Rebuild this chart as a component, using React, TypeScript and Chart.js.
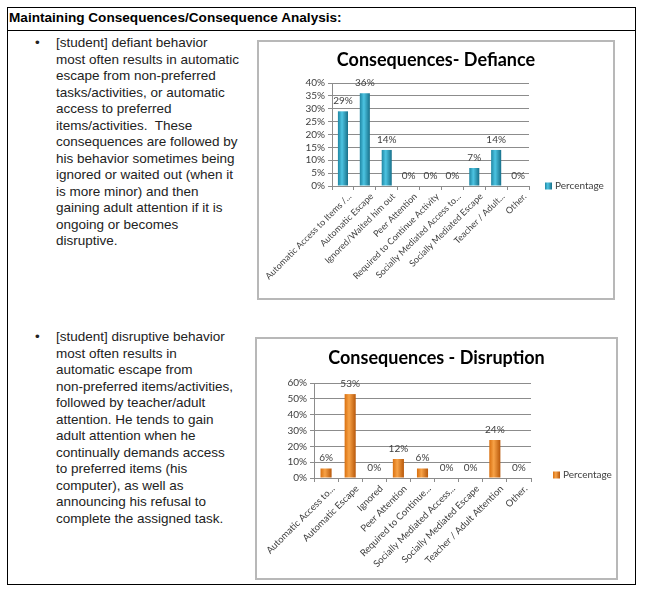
import React, { useEffect, useRef } from "react";
import { Chart, registerables } from "chart.js";

Chart.register(...registerables);

// ---------- data ----------
const seriesName = "Percentage";

const defianceTitle = "Consequences- Defiance";
const defianceLabels = [
  "Automatic Access to Items /...",
  "Automatic Escape",
  "Ignored/Waited him out",
  "Peer Attention",
  "Required to Continue Activity",
  "Socially Mediated Access to...",
  "Socially Mediated Escape",
  "Teacher / Adult...",
  "Other.",
];
const defianceValues = [29, 36, 14, 0, 0, 0, 7, 14, 0];
const defianceMax = 40;
const defianceStep = 5;

const disruptionTitle = "Consequences - Disruption";
const disruptionLabels = [
  "Automatic Access to...",
  "Automatic Escape",
  "Ignored",
  "Peer Attention",
  "Required to Continue...",
  "Socially Mediated Access...",
  "Socially Mediated Escape",
  "Teacher / Adult Attention",
  "Other.",
];
const disruptionValues = [6, 53, 0, 12, 6, 0, 0, 24, 0];
const disruptionMax = 60;
const disruptionStep = 10;

const headerText = "Maintaining Consequences/Consequence Analysis:";
const defianceText = [
  "[student] defiant behavior",
  "most often results in automatic",
  "escape from non-preferred",
  "tasks/activities, or automatic",
  "access to preferred",
  "items/activities.  These",
  "consequences are followed by",
  "his behavior sometimes being",
  "ignored or waited out (when it",
  "is more minor) and then",
  "gaining adult attention if it is",
  "ongoing or becomes",
  "disruptive.",
];
const disruptionText = [
  "[student] disruptive behavior",
  "most often results in",
  "automatic escape from",
  "non-preferred items/activities,",
  "followed by teacher/adult",
  "attention. He tends to gain",
  "adult attention when he",
  "continually demands access",
  "to preferred items (his",
  "computer), as well as",
  "announcing his refusal to",
  "complete the assigned task.",
];

// ---------- styling ----------
const FONT = "Lato, 'Open Sans', sans-serif";
const TEXT = "#404040";
const GRID = "#8c8c8c";
const BAR_PCT = 0.46;

const tealStops = ["#1f86a3", "#4cc4e2", "#17708a"];
const orangeStops = ["#d9700f", "#f7a247", "#b8580a"];

function barFill(stops: string[]) {
  return (c: any) => {
    const chart = c.chart;
    const xs = chart.scales && chart.scales.x;
    if (!xs || !chart.chartArea) return stops[1];
    const n = chart.data.labels.length;
    const cx = xs.getPixelForValue(c.dataIndex);
    const w = (xs.width / n) * BAR_PCT;
    const g = chart.ctx.createLinearGradient(cx - w / 2, 0, cx + w / 2, 0);
    g.addColorStop(0, stops[0]);
    g.addColorStop(0.4, stops[1]);
    g.addColorStop(1, stops[2]);
    return g;
  };
}

const valueLabelPlugin = {
  id: "valueLabels",
  afterDatasetsDraw(chart: any) {
    const { ctx } = chart;
    const meta = chart.getDatasetMeta(0);
    const data = chart.data.datasets[0].data;
    ctx.save();
    ctx.font = `10px ${FONT}`;
    ctx.fillStyle = TEXT;
    ctx.textAlign = "center";
    ctx.textBaseline = "middle";
    meta.data.forEach((bar: any, i: number) => {
      ctx.fillText(`${data[i]}%`, bar.x, bar.y - 10.5);
    });
    ctx.restore();
  },
};

const chartTitlePlugin = {
  id: "chartTitle",
  afterDraw(chart: any, _args: any, opts: any) {
    const { ctx, width } = chart;
    ctx.save();
    ctx.font = `bold 18px ${FONT}`;
    ctx.fillStyle = "#000";
    ctx.textAlign = "center";
    ctx.textBaseline = "middle";
    ctx.fillText(opts.text, width / 2, opts.y);
    ctx.restore();
  },
};

const sideLegendPlugin = {
  id: "sideLegend",
  afterDraw(chart: any, _args: any, opts: any) {
    const { ctx, chartArea } = chart;
    const x = chartArea.right + (opts.dx || 16);
    const y = chartArea.bottom + (opts.dy || 0);
    const stops: string[] = opts.stops;
    ctx.save();
    const g = ctx.createLinearGradient(x, 0, x + 7, 0);
    g.addColorStop(0, stops[0]);
    g.addColorStop(0.4, stops[1]);
    g.addColorStop(1, stops[2]);
    ctx.fillStyle = g;
    ctx.fillRect(x, y - 3.5, 7, 7);
    ctx.font = `10px ${FONT}`;
    ctx.fillStyle = TEXT;
    ctx.textAlign = "left";
    ctx.textBaseline = "middle";
    ctx.fillText(opts.text, x + 10, y);
    ctx.restore();
  },
};

type ChartProps = {
  labels: string[];
  values: number[];
  max: number;
  step: number;
  title: string;
  stops: string[];
  width: number;
  height: number;
  yWidth: number;
  xHeight: number;
  rightPad: number;
  topPad: number;
  titleY: number;
  legendDx: number;
  legendDy: number;
  xFont: number;
};

function BarChart(p: ChartProps) {
  const ref = useRef<HTMLCanvasElement | null>(null);
  useEffect(() => {
    if (!ref.current) return;
    const chart = new Chart(ref.current, {
      type: "bar",
      data: {
        labels: p.labels,
        datasets: [
          {
            label: seriesName,
            data: p.values,
            backgroundColor: barFill(p.stops) as any,
            borderWidth: 0,
            categoryPercentage: 1,
            barPercentage: BAR_PCT,
          },
        ],
      },
      plugins: [valueLabelPlugin, sideLegendPlugin, chartTitlePlugin],
      options: {
        animation: false,
        responsive: false,
        devicePixelRatio: 1,
        layout: { padding: { left: 0, right: p.rightPad, top: p.topPad, bottom: 0 } },
        plugins: {
          legend: { display: false },
          tooltip: { enabled: false },
          title: { display: false },
          chartTitle: { text: p.title, y: p.titleY },
          sideLegend: { text: seriesName, stops: p.stops, dx: p.legendDx, dy: p.legendDy },
        } as any,
        scales: {
          x: {
            grid: {
              drawOnChartArea: false,
              drawTicks: true,
              tickLength: 4,
              color: GRID,
              offset: true,
            },
            border: { color: GRID },
            ticks: {
              autoSkip: false,
              minRotation: 45,
              maxRotation: 45,
              padding: 1,
              labelOffset: 7,
              color: TEXT,
              font: { family: FONT, size: p.xFont },
            },
            afterFit: (s: any) => {
              s.height = p.xHeight;
              s.paddingLeft = 0;
              s.paddingRight = 0;
            },
          } as any,
          y: {
            min: 0,
            max: p.max,
            grid: { color: GRID, tickLength: 4 },
            border: { color: GRID },
            ticks: {
              autoSkip: false,
              stepSize: p.step,
              padding: 3,
              color: TEXT,
              font: { family: FONT, size: 10 },
              callback: (v: any) => `${v}%`,
            },
            afterFit: (s: any) => {
              s.width = p.yWidth;
            },
          } as any,
        },
      },
    });
    return () => chart.destroy();
  }, []);
  return (
    <canvas
      ref={ref}
      width={p.width}
      height={p.height}
      style={{ display: "block", width: p.width, height: p.height }}
    />
  );
}

const textStyle: React.CSSProperties = {
  position: "absolute",
  fontFamily: "'Liberation Sans', Arial, sans-serif",
  fontSize: 13.5,
  lineHeight: "16.5px",
  color: "#222",
  whiteSpace: "pre",
};

function Bullet({ top, lines }: { top: number; lines: string[] }) {
  return (
    <>
      <div style={{ ...textStyle, left: 35, top }}>•</div>
      <div style={{ ...textStyle, left: 56, top }}>
        {lines.map((l, i) => (
          <div key={i}>{l}</div>
        ))}
      </div>
    </>
  );
}

export default function App() {
  return (
    <div
      style={{
        position: "absolute",
        left: 0,
        top: 0,
        width: 647,
        height: 593,
        background: "#fff",
        overflow: "hidden",
      }}
    >
      {/* table outline */}
      <div
        style={{
          position: "absolute",
          left: 7,
          top: 7,
          width: 629,
          height: 578,
          border: "1px solid #000",
          boxSizing: "border-box",
        }}
      />
      <div style={{ position: "absolute", left: 7, top: 30, width: 629, height: 1, background: "#000" }} />
      <div
        style={{
          position: "absolute",
          left: 9,
          top: 10,
          fontFamily: "'Liberation Sans', Arial, sans-serif",
          fontWeight: "bold",
          fontSize: 13.6,
          lineHeight: "16px",
          color: "#000",
          whiteSpace: "pre",
        }}
      >
        {headerText}
      </div>

      <Bullet top={35} lines={defianceText} />
      <Bullet top={329} lines={disruptionText} />

      {/* chart 1 */}
      <div
        style={{
          position: "absolute",
          left: 257,
          top: 40,
          width: 358,
          height: 260,
          border: "2px solid #b8b8b8",
          boxSizing: "border-box",
          background: "#fff",
        }}
      >
        <BarChart
          labels={defianceLabels}
          values={defianceValues}
          max={defianceMax}
          step={defianceStep}
          title={defianceTitle}
          stops={tealStops}
          width={354}
          height={256}
          yWidth={73}
          xHeight={112}
          rightPad={84}
          topPad={41}
          titleY={18}
          legendDx={16}
          legendDy={0}
          xFont={9}
        />
      </div>

      {/* chart 2 */}
      <div
        style={{
          position: "absolute",
          left: 255,
          top: 337,
          width: 363,
          height: 243,
          border: "2px solid #b8b8b8",
          boxSizing: "border-box",
          background: "#fff",
        }}
      >
        <BarChart
          labels={disruptionLabels}
          values={disruptionValues}
          max={disruptionMax}
          step={disruptionStep}
          title={disruptionTitle}
          stops={orangeStops}
          width={359}
          height={239}
          yWidth={57}
          xHeight={100}
          rightPad={85}
          topPad={44}
          titleY={19}
          legendDx={22}
          legendDy={-3}
          xFont={9.5}
        />
      </div>
    </div>
  );
}
